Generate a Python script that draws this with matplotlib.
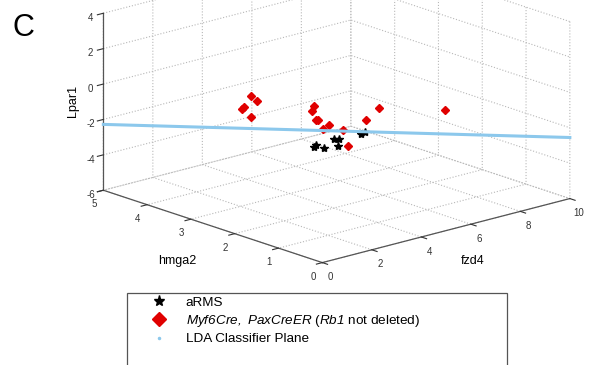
import numpy as np
import matplotlib
matplotlib.use('Agg')
import matplotlib.pyplot as plt
from matplotlib.lines import Line2D
from matplotlib.patches import Rectangle

plt.rcParams['font.family'] = ['Liberation Sans', 'DejaVu Sans']
plt.rcParams['mathtext.fontset'] = 'custom'
plt.rcParams['mathtext.rm'] = 'Liberation Sans'
# italic face on the sf slot so digits and commas stay italic too
plt.rcParams['mathtext.sf'] = 'Liberation Sans:italic'
plt.rcParams['axes.unicode_minus'] = False
plt.rcParams['grid.color'] = '#b8b8b8'
plt.rcParams['grid.linestyle'] = ':'
plt.rcParams['grid.linewidth'] = 0.8

# aRMS samples (fzd4, hmga2, Lpar1)
arms_fzd4 = [3.29, 3.21, 3.62, 3.13, 3.33, 3.29, 3.69, 3.85]
arms_hmga2 = [2.0, 2.0, 2.0, 1.5, 1.5, 1.5, 1.2, 1.2]
arms_lpar1 = [-2.17, -2.25, -2.46, -1.35, -1.42, -1.81, -1.07, -1.02]

# Myf6Cre, PaxCreER (Rb1 not deleted)
myf_fzd4 = [2.44, 2.68, 2.43, 2.48, 2.44, 3.21, 3.13, 3.29, 3.37,
            2.68, 2.93, 3.50, 4.43, 4.96, 6.71, 3.70]
myf_hmga2 = [3.0, 3.0, 3.2, 3.2, 3.0, 2.0, 2.0, 2.0, 2.0,
             1.5, 1.5, 1.5, 1.5, 1.5, 1.0, 1.5]
myf_lpar1 = [0.05, -0.27, -0.80, -0.70, -1.10, 0.03, -0.22, -0.79, -0.77,
             -0.62, -0.53, -1.02, -0.79, -0.29, -0.62, -1.95]

# LDA classifier plane, seen edge-on
plane_fzd4 = [0.0, 10.0]
plane_hmga2 = [5.0, 0.0]
plane_lpar1 = [-2.28, -2.55]

fig = plt.figure(figsize=(5.89, 3.65), dpi=100)
# square axes (in pixels) so the 3d box is not clipped; it runs off the top
ax = fig.add_axes([86 / 589, 8.5 / 365, 488 / 589, 488 / 365], projection='3d')
ax.set_proj_type('ortho')
ax.view_init(elev=17, azim=-131.5)
ax.set_box_aspect((1, 1, 0.56), zoom=1.0)
ax.computed_zorder = False

ax.plot(arms_fzd4, arms_hmga2, arms_lpar1, linestyle='none', marker='*',
        color='black', markersize=6, zorder=3)
ax.plot(myf_fzd4, myf_hmga2, myf_lpar1, linestyle='none', marker='D',
        color='#e00000', markersize=4, zorder=3)
ax.plot(plane_fzd4, plane_hmga2, plane_lpar1, color='#8cc8ec',
        linewidth=2.2, zorder=4)

ax.set_xlim(0, 10)
ax.set_ylim(0, 5)
ax.set_zlim(-6, 4)
ax.set_xticks(np.arange(0, 11, 2))
ax.set_yticks(np.arange(0, 6, 1))
ax.set_zticks(np.arange(-6, 5, 2))

for axis in (ax.xaxis, ax.yaxis, ax.zaxis):
    axis.set_pane_color((1, 1, 1, 0))
    axis.pane.set_edgecolor('none')
    axis.line.set_color('#555555')
    axis.line.set_linewidth(0.9)
    axis._axinfo['tick']['inward_factor'] = 0.3
    axis._axinfo['tick']['outward_factor'] = 0.0
    axis.set_rotate_label(False)
ax.tick_params(labelsize=7, colors='#333333', pad=-1)
ax.tick_params(axis='z', pad=-3)

ax.set_xlabel('fzd4', fontsize=9, labelpad=1)
ax.set_ylabel('hmga2', fontsize=9, labelpad=5)
ax.set_zlabel('Lpar1', fontsize=9, rotation=90, labelpad=-9)

fig.text(0.022, 0.9, 'C', fontsize=22)

# legend box runs past the bottom of the canvas
fig.patches.append(Rectangle((127 / 589, -0.05), 380 / 589, 1 - 293 / 365 + 0.05,
                             transform=fig.transFigure, facecolor='white',
                             edgecolor='#555555', linewidth=0.9))
handles = [
    Line2D([], [], linestyle='none', marker='*', color='black', markersize=8),
    Line2D([], [], linestyle='none', marker='D', color='#e00000', markersize=7),
    Line2D([], [], linestyle='none', marker='.', color='#8cc8ec', markersize=3),
]
labels = ['aRMS',
          r'$\mathsf{Myf6Cre,}$ $\mathsf{PaxCreER}$ ($\mathsf{Rb1}$ not deleted)',
          'LDA Classifier Plane']
fig.legend(handles, labels, loc='upper left',
           bbox_to_anchor=(140 / 589, 1 - 291 / 365), frameon=False,
           fontsize=9.7, labelspacing=0.3, handletextpad=1.0,
           borderaxespad=0)

fig.savefig('out.png', dpi=100)
